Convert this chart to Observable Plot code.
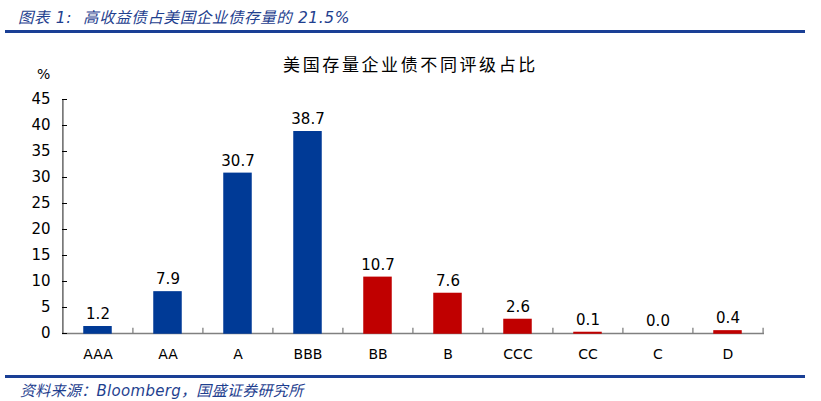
<!DOCTYPE html>
<html><head><meta charset="utf-8">
<script src="https://cdn.jsdelivr.net/npm/d3@7"></script>
<script src="https://cdn.jsdelivr.net/npm/@observablehq/plot@0.6"></script>
<style>
body{margin:0;background:#fff;width:821px;height:401px;position:relative;overflow:hidden;font-family:"DejaVu Sans",sans-serif;}
#title{position:absolute;left:18px;top:5px;font-size:15.5px;font-style:italic;color:#1f3f8f;font-family:"DejaVu Sans","Noto Sans CJK SC",sans-serif;letter-spacing:0.6px;white-space:pre;z-index:2}
.rule{position:absolute;left:5px;width:800px;height:3px;background:#1a3f95;z-index:2}
#ctitle{position:absolute;left:0;width:821px;top:51px;text-align:center;font-size:17px;font-family:"Noto Sans CJK SC",serif;color:#000;letter-spacing:2.6px;z-index:2}
#unit{position:absolute;left:37px;top:66px;font-size:14px;z-index:2}
#chart{position:absolute;left:0;top:40px;z-index:1}
#src{position:absolute;left:20px;top:379px;font-size:15px;font-style:italic;color:#1f3f8f;font-family:"DejaVu Sans","Noto Sans CJK SC",sans-serif;letter-spacing:0.3px;z-index:2}
</style></head><body>
<div id="title">图表 1:  高收益债占美国企业债存量的 21.5%</div>
<div class="rule" style="top:30px"></div>
<div id="ctitle">美国存量企业债不同评级占比</div>
<div id="unit">%</div>
<div id="chart"></div>
<div class="rule" style="top:375px"></div>
<div id="src">资料来源：Bloomberg，国盛证券研究所</div>
<script>
const ratings = ["AAA","AA","A","BBB","BB","B","CCC","CC","C","D"];
const shares = [1.2, 7.9, 30.7, 38.7, 10.7, 7.6, 2.6, 0.1, 0.0, 0.4];
const grade = ["ig","ig","ig","ig","hy","hy","hy","hy","hy","hy"];
const yTicks = [0,5,10,15,20,25,30,35,40,45];

const data = ratings.map((r,i)=>({rating:r, value:shares[i], grade:grade[i]}));
const W = 821, H = 330, ML = 62, MR = 57, MT = 59, MB = 37;
const step = (W - ML - MR) / ratings.length;

const plot = Plot.plot({
  width: W, height: H,
  marginLeft: ML, marginRight: MR, marginTop: MT, marginBottom: MB,
  style: {fontFamily: "DejaVu Sans, sans-serif", fontSize: "14px", color: "#000", background: "transparent"},
  x: {domain: ratings, paddingInner: 0.61, paddingOuter: 0.305, label: null},
  y: {domain: [0,45], ticks: yTicks, label: null},
  color: {domain: ["ig","hy"], range: ["#003a96","#c00000"]},
  marks: [
    Plot.ruleY([0], {stroke: "#808080", strokeWidth: 1.3}),
    Plot.ruleX([ratings[0]], {x: d => d, dx: -step/2, y1: 0, y2: 45, stroke: "#404040", strokeWidth: 1.2}),
    Plot.ruleX(ratings.slice(1), {x: d => d, dx: -step/2, y1: 0, y2: 1, stroke: "#808080", strokeWidth: 1.3}),
    Plot.ruleX([ratings[ratings.length-1]], {x: d => d, dx: step/2, y1: 0, y2: 1, stroke: "#808080", strokeWidth: 1.3}),
    Plot.barY(data, {x: "rating", y: "value", fill: "grade", stroke: "grade", strokeWidth: 1.5}),
    Plot.text(data, {x: "rating", y: "value", text: d => d.value.toFixed(1), lineAnchor: "bottom", dy: -8, fontSize: 15, fill: "#000"}),
    Plot.axisY({ticks: yTicks, tickSize: -5, tickPadding: 17, label: null, fontSize: 15, stroke: "#000"}),
    Plot.axisX({tickSize: 0, tickPadding: 16, label: null, fontSize: 14})
  ]
});
document.getElementById("chart").appendChild(plot);
</script>
</body></html>
